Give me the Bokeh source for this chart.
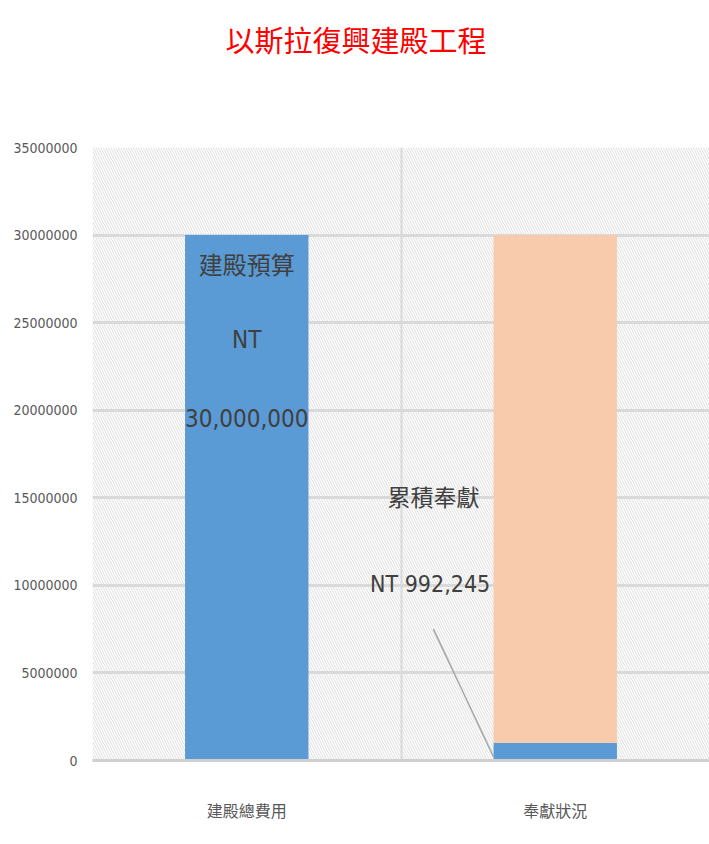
from bokeh.plotting import figure
from bokeh.models import Range1d, FixedTicker, BoxAnnotation, ColumnDataSource, Title
from bokeh.core.properties import value
from bokeh.embed import file_html
from bokeh.resources import INLINE

# ---- data ----
title_text = "以斯拉復興建殿工程"
categories = ["建殿總費用", "奉獻狀況"]
budget = 30000000
donated = 992245
y_ticks = [0, 5000000, 10000000, 15000000, 20000000, 25000000, 30000000, 35000000]
y_tick_labels = ["0", "5000000", "10000000", "15000000", "20000000", "25000000", "30000000", "35000000"]
budget_label = ["建殿預算", "NT", f"{budget:,}"]
donated_label = ["累積奉獻", f"NT  {donated:,}"]

BLUE = "#5B9BD5"
PEACH = "#F8CBAD"
GRID = "#d9d9d9"
LABEL = "#595959"
DARK = "#404040"
CJK = "Noto Sans CJK TC"
NARROW = "'DejaVu Sans Condensed', sans-serif"

xs = [i + 0.5 for i in range(len(categories))]
bar_w = 0.4

p = figure(width=709, height=844, x_range=Range1d(0, len(categories)), y_range=Range1d(0, y_ticks[-1]),
           output_backend="svg", toolbar_location=None,
           min_border_left=92, min_border_right=0, min_border_top=147, min_border_bottom=84)
p.background_fill_color = "white"
p.border_fill_color = "white"
p.outline_line_color = None

# main title (outer)
p.title.text = title_text
p.title.text_font = CJK
p.title.text_font_size = "29px"
p.title.text_font_style = "normal"
p.title.text_color = "#FF0000"
p.title.align = "left"
p.title.offset = 133
p.title.standoff = 10

# spacer between frame and title
p.add_layout(Title(text=" ", text_font=CJK, text_font_size="29px", standoff=39), "above")

# hatch background
p.add_layout(BoxAnnotation(left=0, right=len(categories), bottom=0, top=y_ticks[-1],
                           fill_alpha=0, line_color=None, hatch_pattern="\\", hatch_color="#dedede",
                           hatch_weight=1, hatch_scale=5, level="image"))

# axes
p.yaxis.ticker = FixedTicker(ticks=y_ticks)
p.yaxis.major_label_overrides = {t: l for t, l in zip(y_ticks, y_tick_labels)}
p.yaxis.major_label_text_font = NARROW
p.yaxis.major_label_text_font_size = "14px"
p.yaxis.major_label_text_color = LABEL
p.yaxis.axis_line_color = None
p.yaxis.major_tick_line_color = None
p.yaxis.minor_tick_line_color = None
p.yaxis.major_label_standoff = 9

p.xaxis.ticker = FixedTicker(ticks=xs)
p.xaxis.major_label_overrides = {x: c for x, c in zip(xs, categories)}
p.xaxis.major_label_text_font = CJK
p.xaxis.major_label_text_font_size = "16px"
p.xaxis.major_label_text_color = LABEL
p.xaxis.axis_line_color = "#d0d0d0"
p.xaxis.axis_line_width = 3
p.xaxis.major_tick_line_color = None
p.xaxis.minor_tick_line_color = None
p.xaxis.major_label_standoff = 31

p.ygrid.ticker = FixedTicker(ticks=y_ticks)
p.ygrid.grid_line_color = GRID
p.ygrid.grid_line_width = 3
p.xgrid.ticker = FixedTicker(ticks=list(range(len(categories) + 1)))
p.xgrid.grid_line_color = GRID
p.xgrid.grid_line_width = 2

# bars
bars = ColumnDataSource(dict(
    x=[xs[0], xs[1], xs[1]],
    bottom=[0, 0, donated],
    top=[budget, donated, budget],
    color=[BLUE, BLUE, PEACH],
))
p.vbar(x="x", bottom="bottom", top="top", width=bar_w, fill_color="color", line_color=None, source=bars)

# label on first bar (inside end)
offs = [28, 105, 183]
for txt, off in zip(budget_label, offs):
    is_cjk = txt == budget_label[0]
    p.text(x=[xs[0]], y=[budget], text=[txt], y_offset=off,
           text_font=value(CJK if is_cjk else NARROW),
           text_font_size="24px",
           text_color=DARK, text_align="center", text_baseline="middle")

# callout label for donations
lx = xs[1] - 0.395
p.text(x=[lx], y=[15.1e6], text=[donated_label[0]], text_font=value(CJK), text_font_size="23px",
       text_color=DARK, text_align="center", text_baseline="middle")
p.text(x=[lx], y=[10.1e6], text=[donated_label[1]], text_font=value(NARROW), text_font_size="23px",
       text_color=DARK, text_align="center", text_baseline="middle")
p.segment(x0=[lx], y0=[7.5e6], x1=[xs[1] - bar_w / 2], y1=[donated * 0.2], line_color="#a6a6a6", line_width=1.5)

open("out.html", "w").write(file_html(p, INLINE))
